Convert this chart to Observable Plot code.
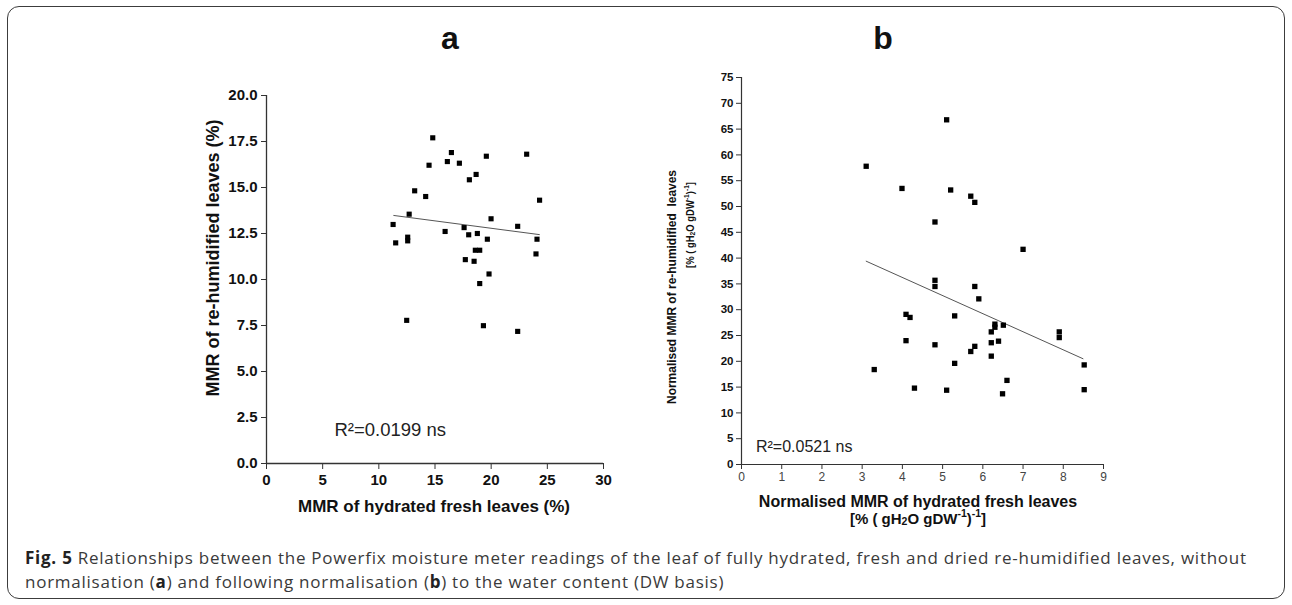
<!DOCTYPE html>
<html><head><meta charset="utf-8">
<script src="https://cdn.jsdelivr.net/npm/d3@7"></script>
<script src="https://cdn.jsdelivr.net/npm/@observablehq/plot@0.6"></script>
<style>
html,body{margin:0;padding:0;background:#fff;}
#page{position:relative;width:1292px;height:605px;overflow:hidden;font-family:"Liberation Sans",Arial,sans-serif;}
#frame{position:absolute;left:7px;top:6px;width:1276px;height:591px;border:1.5px solid #3c3c3c;border-radius:12px;}
#pa,#pb{position:absolute;}
#pa{left:140px;top:60px;}
#pb{left:700px;top:60px;}
#overlay{position:absolute;left:0;top:0;pointer-events:none;}
#caption{position:absolute;left:25px;top:546px;font-family:"Open Sans",sans-serif;font-size:17px;letter-spacing:0.75px;line-height:24px;color:#3a3a3a;white-space:nowrap;}
#caption b{color:#222;}
#pa [aria-label="x-axis tick label"], #pa [aria-label="y-axis tick label"]{font-weight:bold;font-size:15px;}
#pb [aria-label="y-axis tick label"]{font-weight:bold;font-size:11.5px;}
#pb [aria-label="x-axis tick label"]{font-size:12px;fill:#444;}
</style>
</head><body>
<div id="page">
  <div id="frame"></div>
  <div id="pa"></div>
  <div id="pb"></div>
  <svg id="overlay" width="1292" height="605"></svg>
  <div id="caption"><b>Fig. 5</b> Relationships between the Powerfix moisture meter readings of the leaf of fully hydrated, fresh and dried re-humidified leaves, without<br>normalisation (<b>a</b>) and following normalisation (<b>b</b>) to the water content (DW basis)</div>
</div>
<script>
// ---------- Panel a data ----------
const aX = [11.27,11.50,12.70,12.57,12.57,12.48,13.19,14.17,14.47,14.80,15.90,16.10,16.46,17.17,17.59,17.70,18.00,18.06,18.48,18.66,18.77,18.59,18.98,18.98,19.31,19.57,19.66,19.81,19.99,22.36,22.36,23.16,23.99,24.08,24.31];
const aY = [12.99,11.99,13.55,12.30,12.10,7.78,14.82,14.51,16.21,17.70,12.61,16.41,16.90,16.32,12.82,11.08,12.43,15.42,10.99,15.71,12.50,11.59,11.59,9.78,7.49,16.70,12.19,10.30,13.30,12.89,7.18,16.81,11.39,12.19,14.31];
const aFitX = [11.33,24.29];
const aFitY = [13.48,12.44];
const aXTicks = [0,5,10,15,20,25,30];
const aYTicks = [0,2.5,5,7.5,10,12.5,15,17.5,20];
const aR2 = "R²=0.0199 ns";

// ---------- Panel b data ----------
const bX = [3.10,3.99,5.10,5.20,5.70,5.80,4.81,7.00,4.81,4.81,5.80,5.90,4.09,4.19,5.30,6.30,6.30,6.51,6.21,7.90,7.90,4.09,4.81,6.21,6.39,5.80,5.70,6.21,5.30,8.52,3.30,6.60,4.30,5.10,8.52,6.49];
const bY = [57.8,53.5,66.8,53.2,52.0,50.8,47.0,41.7,35.7,34.5,34.5,32.1,29.1,28.5,28.8,27.2,26.6,27.0,25.7,25.7,24.6,24.0,23.2,23.6,23.9,22.9,21.9,21.0,19.6,19.3,18.4,16.3,14.8,14.4,14.5,13.7];
const bFitX = [3.10,8.49];
const bFitY = [39.4,20.5];
const bXTicks = [0,1,2,3,4,5,6,7,8,9];
const bYTicks = [0,5,10,15,20,25,30,35,40,45,50,55,60,65,70,75];
const bR2 = "R²=0.0521 ns";

const ptsA = aX.map((x,i)=>({x, y:aY[i]}));
const fitA = aFitX.map((x,i)=>({x, y:aFitY[i]}));
const ptsB = bX.map((x,i)=>({x, y:bY[i]}));
const fitB = bFitX.map((x,i)=>({x, y:bFitY[i]}));

const plotA = Plot.plot({
  width: 490, height: 470,
  marginLeft: 126, marginTop: 35, marginRight: 27, marginBottom: 67,
  style: {fontFamily: "Liberation Sans, Arial, sans-serif", color: "#111", background: "transparent"},
  x: {domain: [0,30], label: null},
  y: {domain: [0,20], label: null},
  marks: [
    Plot.axisX({ticks: aXTicks, tickSize: 6, tickPadding: 5, tickFormat: d=>String(d), label: null, stroke: "#333"}),
    Plot.axisY({ticks: aYTicks, tickSize: 5, tickPadding: 4, tickFormat: d=>d.toFixed(1), label: null, stroke: "#333"}),
    Plot.ruleY([0], {stroke: "#333", strokeWidth: 1.3}),
    Plot.ruleX([0], {stroke: "#333", strokeWidth: 1.3}),
    Plot.line(fitA, {x: "x", y: "y", stroke: "#555", strokeWidth: 1}),
    Plot.dot(ptsA, {x: "x", y: "y", symbol: "square", r: 2.9, fill: "#000", stroke: null}),
    Plot.text([aR2], {x: 6.05, y: 1.83, text: d=>d, textAnchor: "start", fontSize: 18.5, fill: "#222"})
  ]
});
document.getElementById("pa").appendChild(plotA);

const plotB = Plot.plot({
  width: 420, height: 460,
  marginLeft: 41, marginTop: 17, marginRight: 17, marginBottom: 56,
  style: {fontFamily: "Liberation Sans, Arial, sans-serif", color: "#111", background: "transparent"},
  x: {domain: [0,9], label: null},
  y: {domain: [0,75], label: null},
  marks: [
    Plot.axisX({ticks: bXTicks, tickSize: 5, tickPadding: 3, tickFormat: d=>String(d), label: null, stroke: "#333"}),
    Plot.axisY({ticks: bYTicks, tickSize: 5, tickPadding: 3, tickFormat: d=>String(d), label: null, stroke: "#333"}),
    Plot.ruleY([0], {stroke: "#333", strokeWidth: 1.2}),
    Plot.ruleX([0], {stroke: "#333", strokeWidth: 1.2}),
    Plot.line(fitB, {x: "x", y: "y", stroke: "#555", strokeWidth: 1}),
    Plot.dot(ptsB, {x: "x", y: "y", symbol: "square", r: 3.0, fill: "#000", stroke: null}),
    Plot.text([bR2], {x: 0.36, y: 3.35, text: d=>d, textAnchor: "start", fontSize: 16, fill: "#222"})
  ]
});
document.getElementById("pb").appendChild(plotB);

// ---------- Overlay titles ----------
const ov = d3.select("#overlay");
function label(x, y, parts, size, opts={}) {
  const t = ov.append("text")
    .attr("x", x).attr("y", y)
    .attr("text-anchor", "middle")
    .attr("dominant-baseline", "central")
    .attr("font-family", "Liberation Sans, Arial, sans-serif")
    .attr("font-weight", opts.weight || "bold")
    .attr("font-size", size)
    .attr("fill", "#111");
  if (opts.textLength) t.attr("textLength", opts.textLength).attr("lengthAdjust", "spacingAndGlyphs");
  if (opts.rotate) t.attr("transform", `rotate(-90 ${x} ${y})`);
  parts.forEach(p => {
    const s = typeof p === "string" ? {t: p} : p;
    const ts = t.append("tspan").text(s.t);
    if (s.sub) ts.attr("font-size", size*0.7).attr("baseline-shift", "-25%");
    if (s.sup) ts.attr("font-size", size*0.7).attr("baseline-shift", "45%");
  });
  return t;
}
label(450, 38, ["a"], 32);
label(883, 38, ["b"], 32);
label(213, 258, ["MMR of re-humidified leaves (%)"], 18, {rotate: true});
label(434, 506, ["MMR of hydrated fresh leaves (%)"], 17);
label(672, 287, ["Normalised MMR of re-humidified\u00a0 leaves"], 12.5, {rotate: true, textLength: 234});
label(690, 225, ["[% ( gH", {t:"2", sub:true}, "O gDW", {t:"-1", sup:true}, ")", {t:"-1", sup:true}, "]"], 11.5, {rotate: true, textLength: 86});
label(918, 501, ["Normalised MMR of hydrated fresh leaves"], 16);
label(918, 518, ["[% ( gH", {t:"2", sub:true}, "O gDW", {t:"-1", sup:true}, ")", {t:"-1", sup:true}, "]"], 15);
</script>
</body></html>
